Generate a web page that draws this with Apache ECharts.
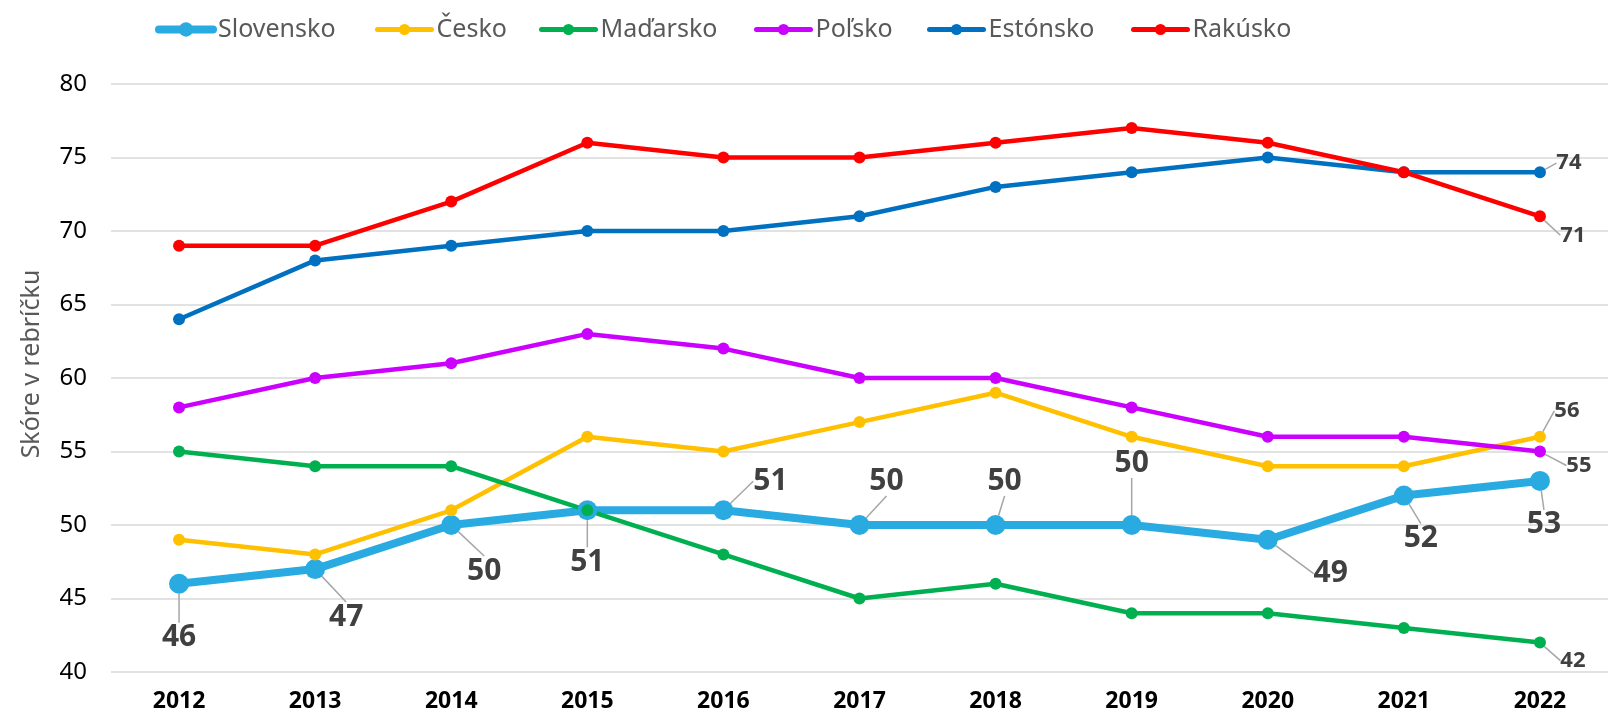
<!DOCTYPE html>
<html>
<head>
<meta charset="utf-8">
<script src="https://cdn.jsdelivr.net/npm/echarts@6/dist/echarts.min.js"></script>
<style>
  html, body { margin: 0; padding: 0; background: #fff; }
  #chart { width: 1608px; height: 715px; }
</style>
</head>
<body>
<div id="chart"></div>
<script>
// roky
const years = ['2012', '2013', '2014', '2015', '2016', '2017', '2018', '2019', '2020', '2021', '2022'];

// skóre krajín
const slovensko = [46, 47, 50, 51, 51, 50, 50, 50, 49, 52, 53];
const cesko = [49, 48, 51, 56, 55, 57, 59, 56, 54, 54, 56];
const madarsko = [55, 54, 54, 51, 48, 45, 46, 44, 44, 43, 42];
const polsko = [58, 60, 61, 63, 62, 60, 60, 58, 56, 56, 55];
const estonsko = [64, 68, 69, 70, 70, 71, 73, 74, 75, 74, 74];
const rakusko = [69, 69, 72, 76, 75, 75, 76, 77, 76, 74, 71];

const yTicks = [40, 45, 50, 55, 60, 65, 70, 75, 80];

const countries = ['Slovensko', 'Česko', 'Maďarsko', 'Poľsko', 'Estónsko', 'Rakúsko'];
const colors = ['#29abe2', '#ffc000', '#00b050', '#cc00ff', '#0070c0', '#ff0000'];

// posun popisov pre Slovensko (px)
const skOffsets = [
    [0, 54], [31, 48], [33, 46], [0, 52], [47, -29], [27, -44],
    [9, -44], [0, -62], [63, 34], [17, 43], [4, 44],
];
// posun popisu poslednej hodnoty ostatných krajín
const lastOffsets = {
    'Česko': [27, -26],
    'Maďarsko': [33, 18],
    'Poľsko': [39, 14],
    'Estónsko': [29, -9],
    'Rakúsko': [33, 19],
};
// x-ová poloha položiek legendy
const legendLeft = [150, 370, 534, 749, 922, 1126];

const FONT = 'Noto Sans';
const labelColor = '#404040';
const guide = {show: true, lineStyle: {color: '#a6a6a6', width: 1.5}};

function smallSeries(name, data, color) {
    const off = lastOffsets[name];
    return {
        name: name,
        type: 'line',
        data: data,
        color: color,
        symbol: 'circle',
        symbolSize: 12,
        lineStyle: {width: 4.5, color: color},
        itemStyle: {color: color},
        label: {
            show: true,
            position: 'inside',
            fontFamily: FONT,
            fontWeight: 'bold',
            fontSize: 22,
            color: labelColor,
            formatter: (p) => p.dataIndex === data.length - 1 ? String(p.value) : '',
        },
        labelLine: guide,
        labelLayout: (p) => p.dataIndex === data.length - 1 ? {dx: off[0], dy: off[1]} : {},
    };
}

const chart = echarts.init(document.getElementById('chart'));

const legends = countries.map((name, i) => ({
    top: 12,
    left: legendLeft[i],
    itemWidth: 54,
    itemHeight: i === 0 ? 18 : 14,
    lineStyle: {width: i === 0 ? 8 : 5, cap: 'round'},
    textStyle: {fontFamily: FONT, fontSize: 25, color: '#595959'},
    data: [name],
}));

const option = {
    backgroundColor: '#fff',
    animation: false,
    textStyle: {fontFamily: FONT},
    legend: legends,
    grid: {left: 111, top: 84, width: 1504, bottom: 43},
    xAxis: {
        type: 'category',
        data: years,
        axisLine: {show: false},
        axisTick: {show: false},
        axisLabel: {
            margin: 18,
            fontFamily: FONT,
            fontWeight: 'bold',
            fontSize: 23,
            color: '#000',
        },
    },
    yAxis: {
        type: 'value',
        min: yTicks[0],
        max: yTicks[yTicks.length - 1],
        interval: 5,
        name: 'Skóre v rebríčku',
        nameLocation: 'middle',
        nameGap: 67,
        nameTextStyle: {fontFamily: FONT, fontSize: 25, color: '#595959', padding: [0, 0, 0, 28]},
        axisLine: {show: false},
        axisTick: {show: false},
        axisLabel: {margin: 24, fontFamily: FONT, fontSize: 24, color: '#000'},
        splitLine: {lineStyle: {color: '#d9d9d9', width: 1.5}},
    },
    series: [
        {
            name: 'Slovensko',
            type: 'line',
            data: slovensko,
            color: colors[0],
            symbol: 'circle',
            symbolSize: 20,
            lineStyle: {width: 8, color: colors[0]},
            itemStyle: {color: colors[0]},
            z: 3,
            label: {
                show: true,
                position: 'inside',
                fontFamily: FONT,
                fontWeight: 'bold',
                fontSize: 30,
                color: labelColor,
            },
            labelLine: guide,
            labelLayout: (p) => ({dx: skOffsets[p.dataIndex][0], dy: skOffsets[p.dataIndex][1]}),
        },
        smallSeries('Česko', cesko, colors[1]),
        smallSeries('Maďarsko', madarsko, colors[2]),
        smallSeries('Poľsko', polsko, colors[3]),
        smallSeries('Estónsko', estonsko, colors[4]),
        smallSeries('Rakúsko', rakusko, colors[5]),
    ],
};

chart.setOption(option);
</script>
</body>
</html>
